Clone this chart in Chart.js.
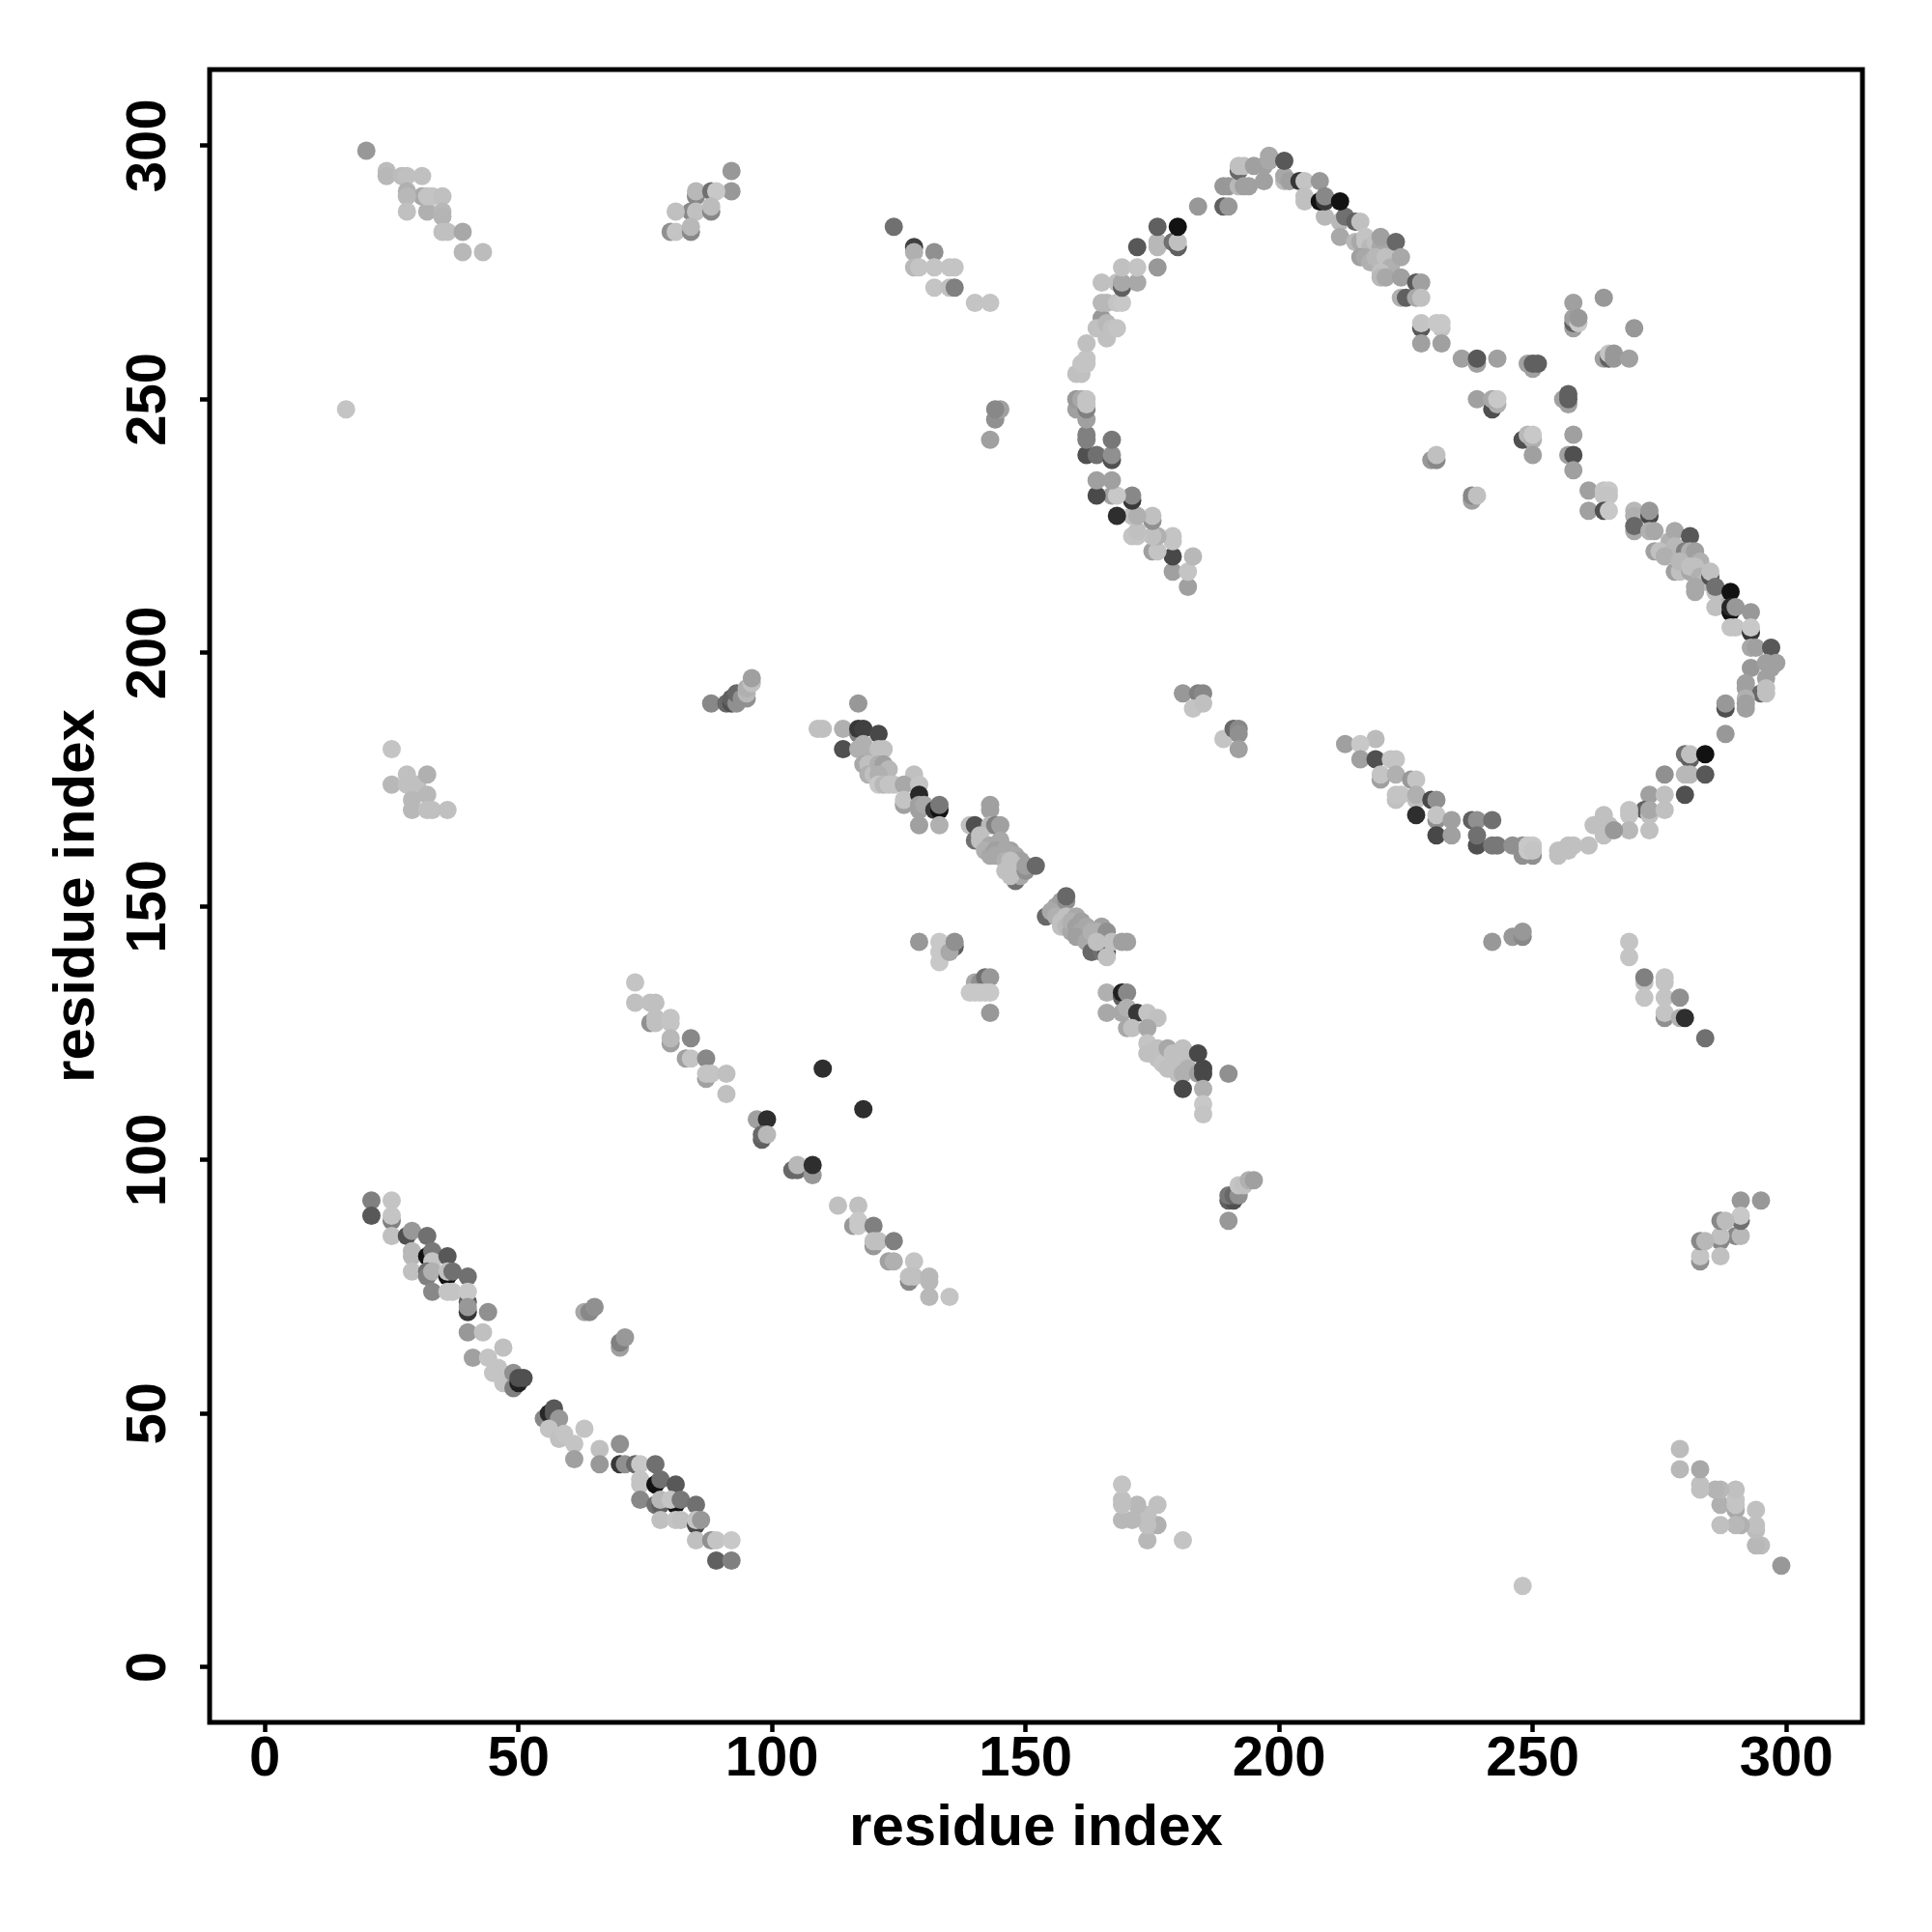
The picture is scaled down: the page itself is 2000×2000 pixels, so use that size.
<!DOCTYPE html>
<html><head><meta charset="utf-8">
<style>html,body{margin:0;padding:0;background:#fff}canvas{display:block}</style>
<script src="https://cdn.jsdelivr.net/npm/chart.js@4"></script>
</head><body><div style="width:2000px;height:2000px"><canvas id="c" width="2000" height="2000"></canvas></div>
<script>
// each contact: [residue index x, residue index y, grey level]
const tickValues=[0,50,100,150,200,250,300];
const axisTitle="residue index";
const cornerUpperLeft=[[20,299,0x98],[24,295,0xbc],[24,294,0xb8],[27,294,0xbc],[28,294,0xc0],[31,294,0xc0],[31,290,0xa8],[28,291,0xb0],[28,290,0xb8],[28,287,0xc0],[32,287,0xb0],[32,290,0xc4],[33,290,0xc4],[35,290,0xc0],[35,287,0xb8],[35,286,0xb4],[35,283,0xc0],[36,283,0xc0],[39,283,0xa8],[39,279,0xb8],[43,279,0xbc]];
const cornerLowerRight=[[299,20,0x98],[295,24,0xbc],[294,24,0xb8],[294,27,0xbc],[294,28,0xc0],[294,31,0xc0],[290,31,0xa8],[291,28,0xb0],[290,28,0xb8],[287,28,0xc0],[287,32,0xb0],[290,32,0xc4],[290,33,0xc4],[290,35,0xc0],[287,35,0xb8],[286,35,0xb4],[283,35,0xc0],[283,36,0xc0],[283,39,0xa8],[279,39,0xb8],[279,43,0xbc]];
const strayPoints=[[16,248,0xc4],[248,16,0xc4],[110,118,0x2e],[118,110,0x2e]];
const patchTop=[[92,295,0x98],[92,291,0x98],[85,290,0x88],[85,291,0xb8],[88,291,0x70],[89,291,0xc8],[84,287,0x88],[81,287,0xc0],[85,287,0xc0],[88,287,0x88],[88,288,0xbc],[80,283,0x90],[81,283,0xc4],[84,283,0x88],[84,284,0xb8]];
const patchRight=[[295,92,0x98],[291,92,0x98],[290,85,0x88],[291,85,0xb8],[291,88,0x70],[291,89,0xc8],[287,84,0x88],[287,81,0xc0],[287,85,0xc0],[287,88,0x88],[288,88,0xbc],[283,80,0x90],[283,81,0xc4],[283,84,0x88],[284,84,0xb8]];
const stripTop=[[124,284,0x70],[128,280,0x40],[128,279,0xb0],[132,279,0x90],[128,276,0xb8],[129,276,0xc4],[132,276,0xc4],[135,276,0xc4],[136,276,0xc4],[132,272,0xc4],[135,272,0xc0],[136,272,0x80],[140,269,0xc4],[143,269,0xc4]];
const stripRight=[[269,143,0xc4],[269,140,0xc4],[272,135,0xc0],[272,136,0x80],[272,132,0xc4],[276,136,0xc4],[276,135,0xc4],[276,132,0xc4],[279,132,0x90],[276,128,0x90],[276,129,0xc4],[279,128,0xb0],[280,128,0x2e],[284,124,0x70]];
const patchLeft=[[25,181,0xc4],[25,174,0xb8],[28,176,0xc0],[28,174,0xc0],[30,174,0xc0],[32,176,0xb0],[32,172,0xb8],[29,171,0xb8],[29,169,0xb8],[32,169,0xc0],[33,169,0xc0],[36,169,0xc0]];
const patchBottom=[[181,25,0xc4],[174,25,0xb8],[176,28,0xb0],[174,28,0xc0],[174,30,0xc0],[176,32,0xc0],[172,32,0xb8],[171,29,0xb8],[169,29,0xb8],[169,32,0xc0],[169,33,0xc0],[169,36,0xc4]];
const clusterA=[[88,190,0x88],[91,190,0x68],[92,190,0x50],[93,191,0x50],[92,191,0x60],[93,190,0x90],[93,192,0x68],[94,191,0x90],[95,191,0x90],[95,192,0xb8],[95,193,0xb0],[96,194,0xc0],[96,195,0xa0]];
const clusterB=[[190,88,0x98],[190,92,0x60],[191,92,0x50],[190,93,0x78],[191,93,0x68],[192,93,0x90],[192,95,0xc4],[193,95,0xc0],[194,96,0xb0],[195,96,0xa0]];
const clusterC=[[143,242,0xa0],[144,246,0x90],[145,248,0xa0],[144,248,0x88],[242,143,0x98],[246,144,0x98],[248,144,0x88],[248,145,0x98]];
const clusterD=[[181,192,0x98],[184,192,0x80],[185,192,0x88],[183,189,0xc4],[185,190,0xc0],[189,183,0xc4],[191,185,0x68],[192,185,0x88],[192,184,0x90],[192,181,0xa0]];
const clusterE=[[63,70,0xa8],[64,70,0x88],[65,71,0x90],[70,63,0xa0],[70,64,0x80],[71,65,0x98]];
const strandLowerLeft=[[21,92,0x80],[21,89,0x58],[25,92,0xc4],[25,88,0x80],[25,89,0xc4],[25,85,0xc0],[28,85,0x50],[29,86,0x98],[32,85,0x70],[29,82,0xb8],[29,81,0xb8],[29,78,0xc0],[32,81,0x12],[33,82,0x78],[33,80,0xc4],[36,81,0x58],[32,78,0x70],[32,77,0x80],[33,78,0xb0],[33,74,0x88],[36,77,0x12],[36,78,0xc0],[37,78,0x70],[36,74,0xc4],[37,74,0xc4],[40,77,0x70],[40,72,0x60],[40,74,0xc8],[40,70,0x38],[40,71,0x98],[44,70,0x90],[40,66,0x98],[43,66,0xc0],[47,63,0xc0],[41,61,0xa0],[44,61,0xc4],[46,59,0xc4],[45,58,0xc4],[47,56,0xc4],[49,58,0x90],[49,55,0x80],[50,56,0x20],[50,57,0x50],[51,57,0x50],[55,49,0x88],[56,50,0x28],[57,51,0x58],[57,50,0x58],[58,49,0x98],[56,47,0xc4],[58,45,0xc0],[59,46,0xc4],[61,44,0xc4],[63,47,0xc4],[61,41,0xa0],[66,43,0xc0],[66,40,0x98],[70,44,0x90],[70,40,0x38],[71,40,0x90],[73,40,0x68],[74,40,0xc8],[77,40,0x70],[74,37,0xc4],[74,36,0xc4],[74,33,0x88],[77,36,0x12],[78,37,0x70],[81,36,0x58],[77,32,0x70],[78,32,0x60],[78,33,0xb8],[81,32,0x12],[80,33,0xc4],[82,33,0x78],[85,32,0x70],[78,29,0xc0],[81,29,0xc4],[82,29,0xc0],[85,28,0x48],[85,29,0xc4],[86,29,0x98],[85,25,0xc0],[88,25,0x90],[89,25,0xc4],[92,25,0xc8],[89,21,0x60],[92,21,0x80]];
const strandMiddle=[[73,135,0xc4],[73,131,0xc0],[76,131,0xc0],[77,131,0xc0],[76,127,0x90],[77,127,0xc0],[77,128,0xc0],[80,128,0xc4],[80,127,0xc4],[80,123,0xa0],[80,124,0xb8],[84,124,0x88],[83,120,0xa0],[84,120,0xc4],[87,120,0x88],[87,116,0xa0],[87,117,0xc4],[88,117,0xc4],[91,117,0xc0],[91,113,0xc0],[97,108,0xa0],[99,108,0x2e],[98,104,0x60],[98,105,0x68],[99,105,0xb8],[104,98,0x68],[105,98,0x68],[105,99,0xb8],[108,97,0x98],[108,99,0x2e],[113,91,0xc0],[117,91,0xc0],[116,87,0x98],[117,88,0xc8],[117,87,0xc8],[120,87,0x80],[120,83,0x98],[120,84,0xc0],[121,84,0xc0],[124,84,0x80],[123,80,0xa0],[124,80,0xb0],[128,80,0xc4],[127,76,0x88],[127,77,0xc0],[128,77,0xc0],[131,77,0xb8],[131,76,0xb8],[131,73,0xb8],[135,73,0xc4]];
const strandCentreUpper=[[117,190,0x98],[109,185,0xc0],[110,185,0xc0],[114,185,0xb0],[117,184,0x80],[117,185,0x38],[118,185,0x40],[121,184,0x48],[114,181,0x50],[117,181,0xb0],[118,182,0xb0],[118,181,0xb0],[120,179,0xb0],[121,181,0xc0],[122,181,0xc0],[118,178,0xa8],[119,178,0xc0],[119,176,0xb0],[120,176,0xc0],[121,178,0xb0],[122,178,0xa0],[123,177,0xb8],[121,176,0xb0],[121,174,0xc8],[122,174,0xb8],[123,174,0xc4],[124,174,0xc4],[128,176,0xc0],[126,174,0xa8],[129,174,0xc4],[126,170,0xa0],[126,171,0xc4],[129,172,0x28],[129,169,0xa0],[129,170,0xa0],[130,170,0xa8],[132,169,0x38],[133,169,0x12],[133,170,0x78],[129,166,0xa0],[133,166,0xb0]];
const strandCentre=[[143,170,0xa0],[143,169,0xa0],[139,166,0xc0],[140,166,0x50],[143,166,0xb8],[144,166,0x80],[145,166,0xa0],[140,163,0x70],[141,164,0xc0],[141,163,0xc0],[143,162,0xa8],[142,161,0xb0],[143,160,0xa8],[145,163,0xa8],[144,161,0xa0],[147,161,0xa0],[144,160,0xa8],[145,160,0xa8],[146,161,0xa8],[146,159,0xb0],[148,160,0xa8],[148,155,0x70],[149,156,0xa8],[147,156,0xc0],[149,159,0xa0],[146,157,0xc0],[147,159,0xc0],[148,158,0xc0],[150,157,0x90],[150,158,0xa0],[152,158,0x68],[156,150,0xa8],[157,151,0xa0],[158,151,0x90],[158,152,0x68],[154,148,0x68],[155,149,0xa8],[156,148,0xb0],[158,148,0xc0],[157,147,0xc0],[157,146,0xc0],[158,146,0xb8],[160,148,0xa8],[159,145,0xa8],[159,147,0xb0],[160,146,0xa0],[161,147,0xa0],[162,146,0xa8],[161,145,0xa8],[160,144,0xa0],[162,143,0xa8],[163,145,0xb0],[163,141,0x68],[165,141,0x70],[166,141,0x50],[165,144,0xb0],[165,146,0xa0],[164,145,0xb0],[166,145,0x90],[166,140,0xc0],[164,143,0xc0],[167,143,0xc0],[169,143,0xa0],[170,143,0xa0]];
const strandCentreLower=[[129,143,0x98],[136,142,0x60],[133,139,0xc8],[133,141,0xc8],[133,143,0xc8],[135,141,0xa8],[136,143,0x90],[140,135,0xa8],[141,135,0x90],[142,136,0x70],[143,136,0x98],[139,133,0xc8],[140,133,0xc8],[141,133,0xc8],[142,133,0xc8],[143,133,0xc8],[143,129,0x98],[166,133,0xb0],[169,132,0x60],[169,133,0x20],[170,133,0x88],[166,129,0xa8],[169,129,0xa8],[170,130,0xb0],[172,129,0x38],[174,129,0xc4],[176,128,0xc0],[170,126,0xa8],[171,126,0xc0],[174,126,0xa8],[174,123,0xc4],[174,121,0xc0],[176,122,0xc0],[176,120,0xc0],[177,119,0xc4],[178,122,0xa8],[178,118,0xc0],[179,121,0xc0],[179,118,0xc0],[180,117,0xc0],[181,122,0xc0],[181,120,0xc0],[184,121,0x48],[181,117,0xb0],[182,118,0xb0],[184,117,0xa0],[185,118,0x48],[185,117,0x48],[190,117,0x90],[181,114,0x48],[185,114,0xb0],[185,111,0xc8],[185,109,0xc4]];
const arcInnerPoints=[[230,238,0x98],[231,238,0x88],[231,239,0xc0],[238,230,0xa0],[238,231,0x88],[239,231,0xc0]];
const arcLeft=[[182,213,0xa0],[179,216,0xa0],[182,216,0xc4],[183,219,0xb8],[179,219,0x48],[175,220,0xa0],[176,220,0xc4],[179,222,0xc4],[179,223,0xc4],[176,223,0xb0],[175,223,0xc0],[172,223,0xc4],[171,223,0xc4],[172,224,0xc0],[175,226,0x90],[175,227,0xc0],[171,227,0xc0],[172,227,0xb0],[168,227,0x2e],[171,230,0x38],[171,231,0x88],[167,231,0xa0],[168,231,0xc8],[164,231,0x4a],[164,234,0xa0],[167,234,0xa0],[162,239,0x50],[164,239,0x70],[167,238,0x50],[167,239,0x90],[167,242,0x78],[162,243,0x80],[162,242,0x80],[162,246,0xa0],[160,248,0xa0],[162,248,0x80],[160,250,0x98],[161,250,0xa8],[162,249,0xc4],[162,250,0xc4],[160,255,0xc0],[161,255,0xc0],[161,257,0xc4],[162,257,0xc4],[162,258,0xc4],[162,261,0xc0],[165,266,0x98],[164,264,0xc0],[166,262,0xc0],[166,265,0xb8],[167,264,0xc0],[168,264,0xc4],[165,269,0xb8],[166,269,0xb8],[168,269,0xc4],[169,269,0xc8],[165,273,0xc0],[168,273,0xc0],[169,272,0x60],[169,273,0xa8],[172,273,0xa8],[169,276,0xc0],[172,276,0xc4],[176,276,0x98],[172,280,0x58],[176,280,0xb8],[176,281,0xb8],[179,281,0x70],[180,280,0x60],[180,281,0xc0],[176,284,0x60],[180,284,0x12]];
const arcCrest=[[184,288,0x98],[189,288,0x60],[190,288,0x98],[189,292,0x98],[190,292,0x98],[192,292,0xb8],[192,295,0x68],[192,296,0xc0],[193,296,0xc0],[193,292,0xa0],[194,292,0xa0],[195,296,0xa0],[197,293,0xa0],[197,296,0xa0],[198,297,0xa8],[198,298,0xa8],[201,293,0xbb],[201,294,0xa8],[201,297,0x58],[202,293,0xa0],[204,293,0x38],[205,293,0xc4],[208,293,0x98],[205,290,0xc0],[205,289,0xc0],[208,289,0x12],[209,289,0x38],[209,290,0x88],[212,289,0x12]];
const arcRightUpper=[[209,286,0xb8],[212,285,0xb8],[213,286,0x70],[215,285,0x60],[216,285,0xc0],[212,282,0xa8],[215,281,0xb8],[216,281,0xa8],[217,282,0xc4],[217,281,0xc4],[218,280,0xb8],[219,281,0xc0],[221,280,0xb0],[220,280,0xa8],[220,282,0xa0],[223,281,0x68],[216,278,0xa0],[217,278,0xa8],[218,277,0xb0],[219,278,0xb8],[221,278,0xc0],[222,276,0xb0],[224,278,0xa8],[220,275,0xc0],[220,274,0xb8],[221,274,0xa8],[224,274,0xa0],[227,273,0x58],[228,273,0xa0],[224,270,0xb0],[225,270,0x60],[227,270,0xa8],[228,270,0xc0],[228,264,0x58],[228,265,0xc4],[232,264,0xc4],[231,265,0xc8],[232,265,0xc8],[228,261,0xa0],[232,261,0xa0],[236,258,0xa0],[239,257,0xa0],[239,258,0x58],[243,258,0xa0],[239,250,0xa0],[242,248,0x50],[243,249,0xb0],[242,250,0xa8],[243,250,0xc8],[249,257,0xa0],[250,256,0xa0],[250,257,0x60],[251,257,0x60],[248,242,0x50],[249,243,0xb8],[250,242,0xb0],[250,243,0xc8],[250,239,0xa0]];
const arcScatter=[[264,270,0x98],[258,269,0xa0],[258,264,0xa0],[258,265,0x60],[258,266,0xa0],[259,265,0xc8],[259,266,0x98],[270,264,0x98],[264,258,0xa0],[265,258,0x60],[265,259,0xc4],[266,258,0x98],[266,259,0x98],[269,258,0xa0],[256,250,0xa0],[257,249,0xa0],[257,250,0x60],[257,251,0x60],[258,243,0xa0],[257,239,0xa0],[258,239,0x50],[258,236,0xa0],[261,232,0xa0],[264,232,0xc4],[265,232,0xc8],[264,231,0xc4],[265,231,0xc4],[261,228,0xa0],[264,228,0x50],[265,228,0xc8]];
const arcRightSide=[[270,228,0xb8],[270,227,0xb0],[270,224,0xa8],[270,225,0x68],[273,227,0x48],[273,228,0x98],[273,224,0xb0],[274,224,0xa8],[277,222,0xb0],[278,224,0xa8],[281,223,0x58],[274,220,0xa0],[275,220,0xc0],[278,221,0xb8],[278,220,0xb8],[276,219,0xb0],[280,220,0x80],[281,220,0xb0],[282,220,0xa0],[278,216,0xa0],[279,216,0xc0],[279,218,0xb8],[283,218,0xb0],[281,216,0xa8],[281,217,0xc0],[282,217,0xc0],[283,215,0xb0],[284,214,0xb8],[285,215,0x50],[285,216,0xc0],[282,213,0xa8],[282,212,0xa8],[287,211,0xb0],[286,212,0xc0],[286,213,0x70],[289,212,0x12],[286,209,0xc0],[289,208,0x12],[289,209,0x28],[290,209,0x98],[293,208,0x98],[289,205,0xc4],[290,205,0xc4],[293,204,0x38],[293,205,0xc8],[293,201,0xa8],[294,201,0xa0],[297,201,0x58],[293,197,0x98],[296,198,0xa0],[297,197,0xa0],[298,198,0xa0],[292,194,0xa0],[292,193,0xa0],[296,195,0xa0],[295,192,0x68],[296,192,0xc0],[296,193,0xc0],[292,191,0xb0],[292,190,0xa0],[292,189,0xa0],[288,189,0x50],[288,190,0x98],[288,184,0x98]];
const arcBottomRight=[[280,180,0x70],[281,179,0x60],[281,180,0xc0],[284,180,0x12],[276,176,0x90],[280,176,0xb8],[281,176,0xb8],[284,176,0x58],[273,172,0xa0],[276,172,0xc0],[280,172,0x50],[272,169,0x60],[273,168,0xc0],[273,169,0xa8],[276,169,0xc0],[269,169,0xc4],[269,168,0xc4],[269,165,0xb8],[273,165,0xc0],[264,168,0xc0],[262,166,0xc0],[264,164,0xc0],[265,166,0xc0],[266,165,0x98],[261,162,0xc0],[257,162,0xc0],[258,162,0xc0],[257,161,0xc0],[256,161,0xc0],[255,160,0xc0],[255,161,0xc0]];
const arcBottomLeft=[[213,182,0xa0],[219,183,0xbb],[216,182,0xc8],[216,179,0xa0],[219,179,0x50],[222,179,0xc4],[223,179,0xc4],[220,175,0xa0],[220,176,0xc4],[223,176,0xb0],[226,175,0x98],[227,175,0xc4],[223,171,0xc0],[223,172,0xc4],[224,172,0xc4],[227,171,0xc0],[227,172,0xb0],[230,171,0x48],[231,171,0x90],[227,168,0x2e],[231,167,0x90],[231,168,0xc4],[234,167,0xa0],[231,164,0x48],[234,164,0xa0],[238,167,0x60],[239,167,0x90],[242,167,0x70],[239,162,0x50],[239,164,0x70],[242,162,0x78],[243,162,0x78],[246,162,0x90],[248,160,0x90],[250,160,0x90],[248,162,0x90],[249,162,0xc8],[250,162,0xc8],[249,161,0xc8],[250,161,0xc4]];

const clusters=[cornerUpperLeft,cornerLowerRight,strayPoints,patchTop,patchRight,stripTop,stripRight,patchLeft,patchBottom,clusterA,clusterB,clusterC,clusterD,clusterE,strandLowerLeft,strandMiddle,strandCentreUpper,strandCentre,strandCentreLower,arcInnerPoints,arcLeft,arcCrest,arcRightUpper,arcScatter,arcRightSide,arcBottomRight,arcBottomLeft];
const grey=g=>`rgb(${g},${g},${g})`;
const family='"Liberation Sans",Arial,sans-serif';
const tickFont={family,size:58,weight:'bold'};
const titleFont={family,size:60,weight:'bold'};
const axisRange={min:-10.9,max:315};
const frame={id:'frame',afterDatasetsDraw(c){const a=c.chartArea,x=c.ctx;x.save();x.strokeStyle='#000';x.lineWidth=5;x.strokeRect(a.left,a.top,a.right-a.left,a.bottom-a.top);x.restore();}};
const setTicks=s=>{s.ticks=tickValues.map(v=>({value:v}));};
new Chart(document.getElementById('c'),{
 type:'scatter',
 data:{datasets:clusters.map(cl=>({
   data:cl.map(p=>({x:p[0],y:p[1]})),
   backgroundColor:cl.map(p=>grey(p[2])),
   pointRadius:9.5,pointHoverRadius:9.5,borderWidth:0,clip:false}))},
 options:{responsive:false,animation:false,
  layout:{padding:{top:72,right:72,left:0,bottom:0}},
  plugins:{legend:{display:false},tooltip:{enabled:false}},
  scales:{
   x:{type:'linear',...axisRange,afterBuildTicks:setTicks,afterFit(s){s.height=217;},
      grid:{drawOnChartArea:false,drawTicks:true,tickLength:10,tickWidth:4.5,tickColor:'#000'},border:{display:false},
      ticks:{color:'#000',font:tickFont,padding:-6,maxRotation:0,minRotation:0,autoSkip:false,callback:v=>String(v)},
      title:{display:true,text:axisTitle,color:'#000',font:titleFont,padding:{top:0,bottom:71}}},
   y:{type:'linear',...axisRange,afterBuildTicks:setTicks,afterFit(s){s.width=217;},
      grid:{drawOnChartArea:false,drawTicks:true,tickLength:10,tickWidth:4.5,tickColor:'#000'},border:{display:false},
      ticks:{color:'#000',font:tickFont,padding:4,maxRotation:90,minRotation:90,autoSkip:false,crossAlign:'center',callback:v=>String(v)},
      title:{display:true,text:axisTitle,color:'#000',font:titleFont,padding:{top:44,bottom:0}}}
  }},
 plugins:[frame]
});
</script></body></html>
